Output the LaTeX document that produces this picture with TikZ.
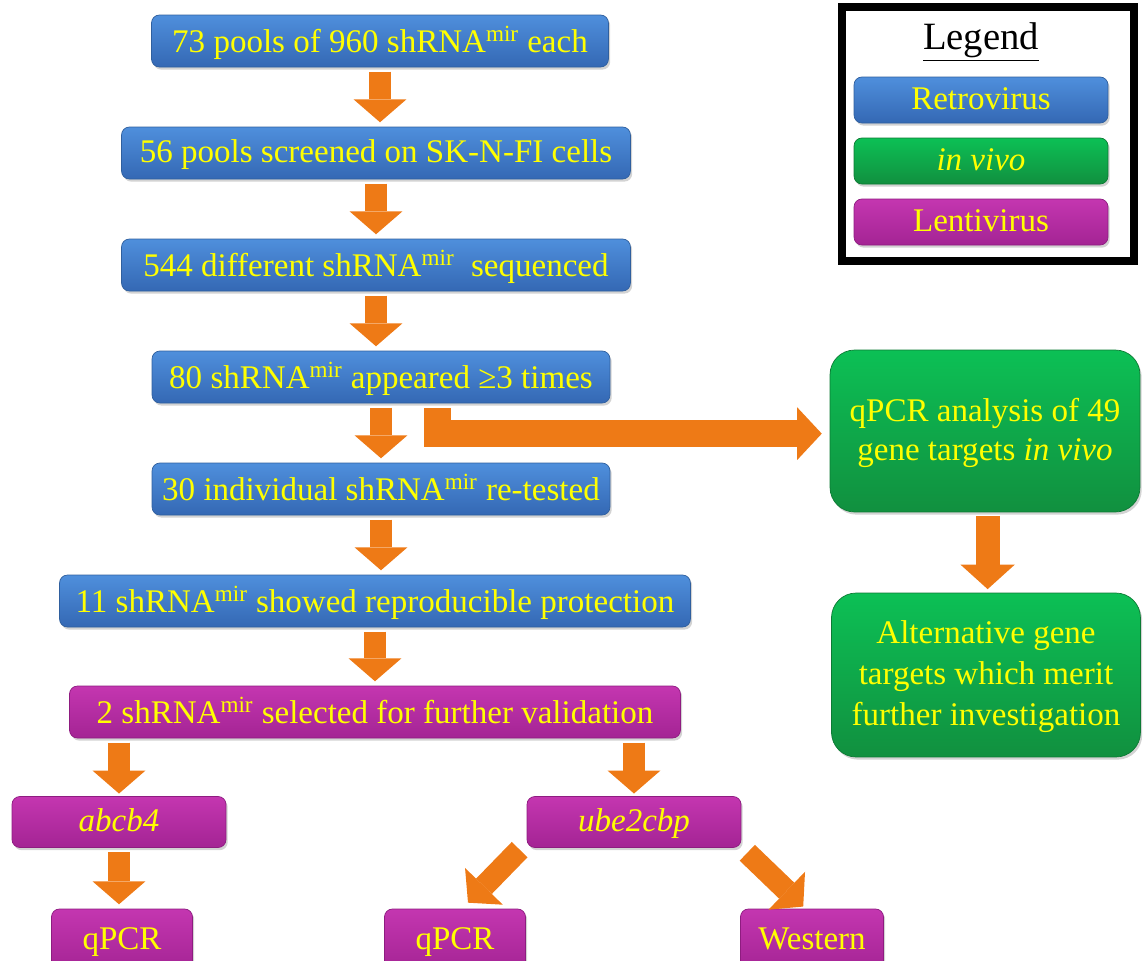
\documentclass[tikz,border=0pt]{standalone}
\usepackage{fontspec}
\setmainfont{Liberation Serif}
\usetikzlibrary{arrows.meta,shadows}
\definecolor{retroTop}{HTML}{4F8FDC}
\definecolor{retroBot}{HTML}{3468B4}
\definecolor{retroLine}{HTML}{2F5F9E}
\definecolor{vivoTop}{HTML}{0CC055}
\definecolor{vivoBot}{HTML}{11903F}
\definecolor{vivoLine}{HTML}{0C7A34}
\definecolor{lentiTop}{HTML}{C436B0}
\definecolor{lentiBot}{HTML}{A42494}
\definecolor{lentiLine}{HTML}{8E1C80}
\definecolor{arrowOrange}{HTML}{EE7A16}
\definecolor{boxText}{HTML}{FFFF00}

\begin{document}
\begin{tikzpicture}[x=0.02cm,y=-0.02cm,
    stepbox/.style={rounded corners=4.5pt, text=boxText, inner sep=0pt, align=center,
      font=\fontsize{18.8}{22}\selectfont, text depth=0.45ex,
      drop shadow={opacity=0.35, shadow xshift=1pt, shadow yshift=-1.5pt}},
    retro/.style={stepbox, top color=retroTop, bottom color=retroBot, draw=retroLine},
    lenti/.style={stepbox, top color=lentiTop, bottom color=lentiBot, draw=lentiLine},
    vivo/.style={stepbox, rounded corners=14pt, top color=vivoTop, bottom color=vivoBot, draw=vivoLine},
    flow/.style={line width=12.5pt, draw=arrowOrange,
      -{Triangle[length=13pt, width=30pt, line width=0pt]}},
  ]
    \clip (0,0) rectangle (1144,961);
    % Retrovirus Screen
    \node[retro, minimum width=9.14cm, minimum height=1.04cm] (pools) at (380, 41)
      {73 pools of 960 shRNA\textsuperscript{mir} each};
    \node[retro, minimum width=10.18cm, minimum height=1.04cm] (screened) at (376, 153)
      {56 pools screened on SK-N-FI cells};
    \node[retro, minimum width=10.18cm, minimum height=1.04cm] (sequenced) at (376, 265)
      {544 different shRNA\textsuperscript{mir}\ \ sequenced};
    \node[retro, minimum width=9.16cm, minimum height=1.04cm] (appeared) at (381, 377)
      {80 shRNA\textsuperscript{mir} appeared ≥3 times};
    \node[retro, minimum width=9.16cm, minimum height=1.04cm] (retested) at (381, 489)
      {30 individual shRNA\textsuperscript{mir} re-tested};
    \node[retro, minimum width=12.62cm, minimum height=1.04cm] (protection) at (375, 601)
      {11 shRNA\textsuperscript{mir} showed reproducible protection};
    % Lentivirus Validation
    \node[lenti, minimum width=12.22cm, minimum height=1.04cm] (selected) at (375, 712)
      {2 shRNA\textsuperscript{mir} selected for further validation};
    \node[lenti, minimum width=4.28cm, minimum height=1.02cm] (abcb) at (119, 822) {\textit{abcb4}};
    \node[lenti, minimum width=4.28cm, minimum height=1.02cm] (ube) at (634, 822) {\textit{ube2cbp}};
    \node[lenti, minimum width=2.82cm, minimum height=1.24cm] (qpcrA) at (122, 940) {qPCR};
    \node[lenti, minimum width=2.82cm, minimum height=1.24cm] (qpcrB) at (455, 940) {qPCR};
    \node[lenti, minimum width=2.86cm, minimum height=1.24cm] (western) at (812, 940) {Western};
    % in vivo Branch
    \node[vivo, minimum width=6.2cm, minimum height=3.24cm] (analysis) at (985, 431)
      {qPCR analysis of 49\\gene targets \textit{in vivo}};
    \node[vivo, minimum width=6.18cm, minimum height=3.28cm, font=\fontsize{18.8}{23.5}\selectfont] (alternative) at (986, 675)
      {Alternative gene\\targets which merit\\further investigation};
    % Legend
    \draw[line width=4.5pt, fill=white, drop shadow={opacity=0.4, shadow xshift=1.5pt, shadow yshift=-1.5pt}]
      (842, 7) rectangle (1134, 261);
    \node[font=\fontsize{22}{26}\selectfont] (legend) at (981, 42) {\underline{Legend}};
    \node[retro, minimum width=5.08cm, minimum height=0.92cm] (keyRetro) at (981, 100) {Retrovirus};
    \node[vivo, rounded corners=4.5pt, minimum width=5.08cm, minimum height=0.92cm] (keyVivo) at (981, 161) {\textit{in vivo}};
    \node[lenti, minimum width=5.08cm, minimum height=0.92cm] (keyLenti) at (981, 222) {Lentivirus};
    %
    % Flow Arrows
    \draw[flow] ([yshift=-2.5pt]pools.south) -- ([yshift=2.5pt]pools.south |- screened.north);
    \draw[flow] ([yshift=-2.5pt]screened.south) -- ([yshift=2.5pt]screened.south |- sequenced.north);
    \draw[flow] ([yshift=-2.5pt]sequenced.south) -- ([yshift=2.5pt]sequenced.south |- appeared.north);
    \draw[flow] ([yshift=-2.5pt]appeared.south) -- ([yshift=2.5pt]appeared.south |- retested.north);
    \draw[flow] ([yshift=-2.5pt]retested.south) -- ([yshift=2.5pt]retested.south |- protection.north);
    \draw[flow] ([yshift=-2.5pt]protection.south) -- ([yshift=2.5pt]protection.south |- selected.north);
    \draw[flow] ([yshift=-2.5pt]selected.south -| abcb.north) -- ([yshift=1.5pt]abcb.north);
    \draw[flow] ([yshift=-2.5pt]selected.south -| ube.north) -- ([yshift=1.5pt]ube.north);
    \draw[flow] ([yshift=-2.5pt]abcb.south) -- ([yshift=2.5pt]abcb.south |- qpcrA.north);
    % Diagonal Arrows from ube2cbp
    \draw[flow] ([xshift=-4pt, yshift=-1pt]ube.south west) -- ([xshift=7.4pt, yshift=3.4pt]qpcrB.north);
    \draw[flow] ([xshift=3.4pt, yshift=-2.8pt]ube.south east) -- ([xshift=-5pt, yshift=1.2pt]western.north);
    % Branch to in vivo Analysis
    \draw[flow, line width=15.5pt, line join=miter, -{Triangle[length=14pt, width=30pt, line width=0pt]}]
      ([xshift=32pt, yshift=-2.8pt]appeared.south) |- ([xshift=-4.5pt, yshift=-1.5pt]analysis.west);
    \draw[flow, line width=13.5pt, -{Triangle[length=14pt, width=31pt, line width=0pt]}]
      ([xshift=1.5pt, yshift=-2pt]analysis.south) -- ([xshift=1.5pt, yshift=2pt]analysis.south |- alternative.north);
\end{tikzpicture}
\end{document}
